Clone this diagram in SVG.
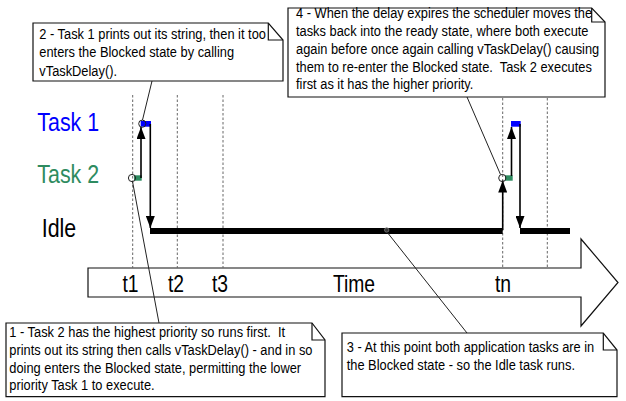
<svg xmlns="http://www.w3.org/2000/svg" width="626" height="401" viewBox="0 0 626 401">
<style>
  .note { fill: #fff; stroke: #111; stroke-width: 1.2; }
  .fold { fill: none; stroke: #111; stroke-width: 1.2; }
  .nt { font-family: "Liberation Sans", Arial, sans-serif; font-size: 15.3px; fill: #000; }
  .lbl { font-family: "Liberation Sans", Arial, sans-serif; font-size: 25.5px; }
  .tl { font-family: "Liberation Sans", Arial, sans-serif; font-size: 23px; fill: #000; text-anchor: middle; }
  .dash { stroke: #666; stroke-width: 1; stroke-dasharray: 2.5 2; fill: none; }
  .call { stroke: #222; stroke-width: 1; fill: none; }
  .arr { stroke: #000; stroke-width: 1.6; fill: none; }
  .ring { fill: none; stroke: #222; stroke-width: 1; }
</style>
<defs>
  <marker id="ah" viewBox="0 0 12 9" refX="12" refY="4.5" markerWidth="12" markerHeight="9" markerUnits="userSpaceOnUse" orient="auto">
    <path d="M0,0 L12,4.5 L0,9 Z" fill="#000"/>
  </marker>
</defs>
<rect width="626" height="401" fill="#fff"/>

<g id="time-axis">
  <path d="M88,268 H581 V239 L618,282.5 L581,326 V297 H88 Z" fill="#fff" stroke="#111" stroke-width="1.2"/>
  <text class="tl" transform="translate(130.5,291.5) scale(0.84,1)">t1</text>
  <text class="tl" transform="translate(176,291.5) scale(0.84,1)">t2</text>
  <text class="tl" transform="translate(220,291.5) scale(0.84,1)">t3</text>
  <text class="tl" transform="translate(354,291.5) scale(0.84,1)">Time</text>
  <text class="tl" transform="translate(503,291.5) scale(0.84,1)">tn</text>
</g>

<g id="gridlines">
  <line class="dash" x1="132.7" y1="95" x2="132.7" y2="268"/>
  <line class="dash" x1="177.3" y1="95" x2="177.3" y2="268"/>
  <line class="dash" x1="223" y1="95" x2="223" y2="268"/>
  <line class="dash" x1="502.7" y1="98" x2="502.7" y2="268"/>
  <line class="dash" x1="547.3" y1="98" x2="547.3" y2="268"/>
</g>

<g id="row-labels">
  <text class="lbl" fill="#0000ff" transform="translate(37.3,130.7) scale(0.84,1)">Task 1</text>
  <text class="lbl" fill="#2e8b60" transform="translate(37.3,183) scale(0.84,1)">Task 2</text>
  <text class="lbl" fill="#000" transform="translate(41.7,236.7) scale(0.84,1)">Idle</text>
</g>

<g id="idle-task">
  <rect x="150" y="228" width="352.7" height="6" fill="#000"/>
  <rect x="520" y="228" width="50" height="6" fill="#000"/>
  <circle cx="386.7" cy="230" r="2.2" fill="#333" stroke="#777" stroke-width="0.8"/>
</g>

<g id="task-1">
  <rect x="140.7" y="121" width="10.3" height="5.7" fill="#0000ff"/>
  <rect x="511" y="121" width="9.7" height="5.7" fill="#0000ff"/>
</g>

<g id="task-2">
  <rect x="134" y="175.3" width="7.7" height="5.4" fill="#2e8b60"/>
  <rect x="505" y="175.3" width="7.7" height="5.4" fill="#2e8b60"/>
</g>

<g id="connectors">
  <line class="arr" x1="141" y1="178" x2="141" y2="127" marker-end="url(#ah)"/>
  <line class="arr" x1="150.3" y1="124" x2="150.3" y2="228" marker-end="url(#ah)"/>
  <line class="arr" x1="502.7" y1="230" x2="502.7" y2="180.5" marker-end="url(#ah)"/>
  <line class="arr" x1="511.5" y1="176" x2="511.5" y2="127" marker-end="url(#ah)"/>
  <line class="arr" x1="520" y1="124" x2="520" y2="228" marker-end="url(#ah)"/>
  <line class="call" x1="152" y1="81" x2="142.5" y2="120"/>
  <line class="call" x1="132.5" y1="181.5" x2="159" y2="323"/>
  <line class="call" x1="387" y1="232" x2="467" y2="333"/>
  <line class="call" x1="467" y1="97" x2="500.5" y2="174.5"/>
  <circle class="ring" cx="142.3" cy="123.7" r="3.6"/>
  <circle class="ring" cx="132" cy="178" r="3.6"/>
  <circle class="ring" cx="502.3" cy="178" r="3.6"/>
</g>

<g id="note-2">
  <path class="note" d="M33,23 H268.3 L283,40 V81 H33 Z"/>
  <path class="fold" d="M268.3,23 V40 H283"/>
  <text class="nt" transform="translate(39.3,0) scale(0.84,1)">
    <tspan x="0" y="39.3">2 - Task 1 prints out its string, then it too</tspan>
    <tspan x="0" y="57.5">enters the Blocked state by calling</tspan>
    <tspan x="0" y="75.7">vTaskDelay().</tspan>
  </text>
</g>

<g id="note-4">
  <path class="note" d="M288,8 H591.7 L605,22 V97 H288 Z"/>
  <path class="fold" d="M591.7,8 V22 H605"/>
  <text class="nt" transform="translate(296,0) scale(0.84,1)">
    <tspan x="0" y="18.5">4 - When the delay expires the scheduler moves the</tspan>
    <tspan x="0" y="36.3">tasks back into the ready state, where both execute</tspan>
    <tspan x="0" y="54.1">again before once again calling vTaskDelay() causing</tspan>
    <tspan x="0" y="71.9">them to re-enter the Blocked state.&#160; Task 2 executes</tspan>
    <tspan x="0" y="89.5">first as it has the higher priority.</tspan>
  </text>
</g>

<g id="note-1">
  <path class="note" d="M6,323 H312 L325,340 V396.7 H6 Z"/>
  <path class="fold" d="M312,323 V340 H325"/>
  <text class="nt" transform="translate(9.3,0) scale(0.84,1)">
    <tspan x="0" y="337.5">1 - Task 2 has the highest priority so runs first.&#160; It</tspan>
    <tspan x="0" y="355.2">prints out its string then calls vTaskDelay() - and in so</tspan>
    <tspan x="0" y="372.9">doing enters the Blocked state, permitting the lower</tspan>
    <tspan x="0" y="390.4">priority Task 1 to execute.</tspan>
  </text>
</g>

<g id="note-3">
  <path class="note" d="M342,333 H603.3 L617,350 V396.7 H342 Z"/>
  <path class="fold" d="M603.3,333 V350 H617"/>
  <text class="nt" transform="translate(346.7,0) scale(0.84,1)">
    <tspan x="0" y="352.5">3 - At this point both application tasks are in</tspan>
    <tspan x="0" y="370.2">the Blocked state - so the Idle task runs.</tspan>
  </text>
</g>
</svg>
